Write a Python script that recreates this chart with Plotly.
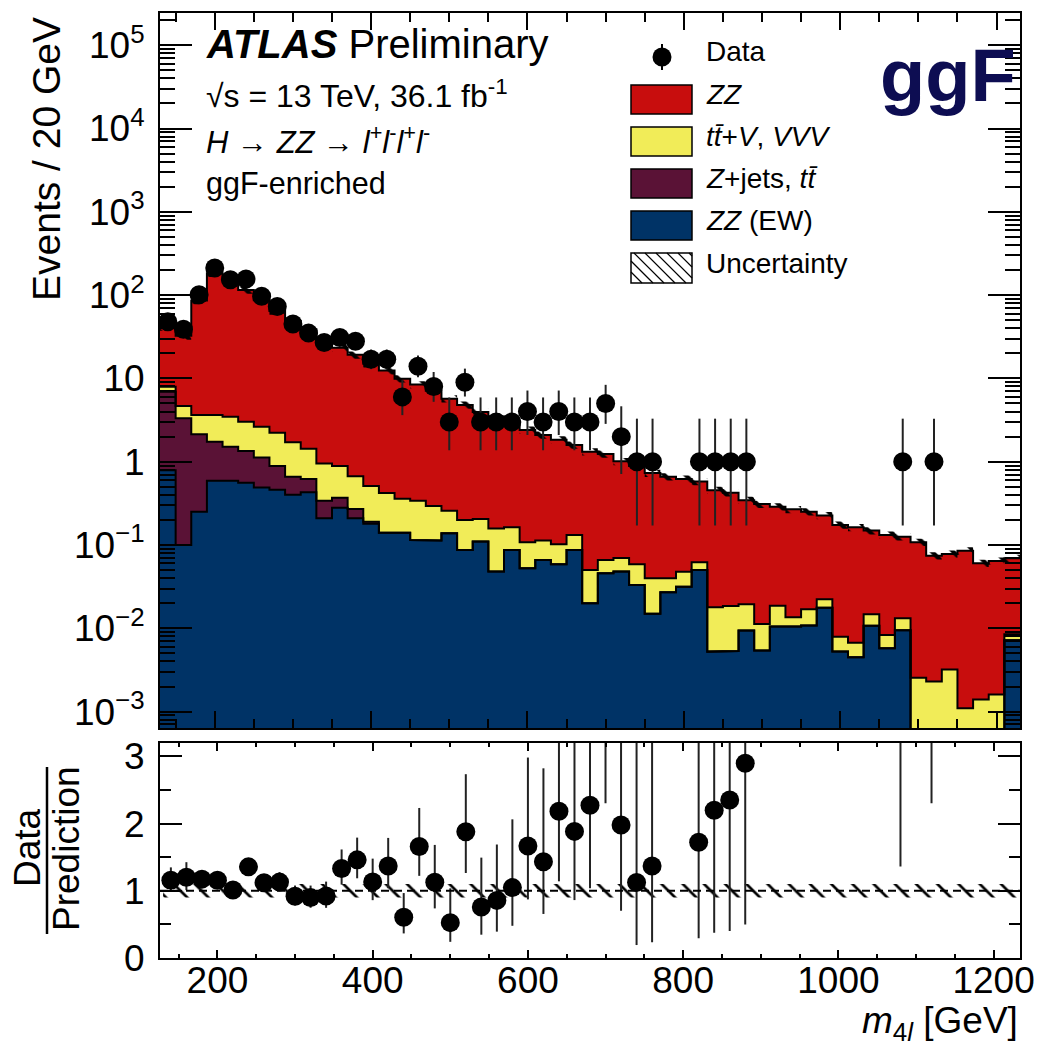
import numpy as np
import plotly.graph_objects as go

# ---------------------------------------------------------------- binning
bin_lo = 130.0          # GeV
bin_width = 20.0        # GeV
n_bins = 55
edges = bin_lo + bin_width * np.arange(n_bins + 1)
centers = edges[:-1] + 0.5 * bin_width

# ---------------------------------------------------------------- data (events per bin)
data_counts = [48, 39, 101, 212, 153, 156, 97, 73, 45, 35,
               27, 31, 28, 17, 17, 6, 14, 8, 3, 9,
               3, 3, 3, 4, 3, 4, 3, 3, 5, 2,
               1, 1, 0, 0, 1, 1, 1, 1, 0, 0,
               0, 0, 0, 0, 0, 0, 0, 1, 0, 1,
               0, 0, 0, 0, 0]

# ---------------------------------------------------------------- predictions (events per bin)
zz_ew = [0.79, 0.10, 0.25, 0.59, 0.59, 0.56, 0.49, 0.46, 0.40, 0.43,
         0.21, 0.28, 0.21, 0.18, 0.14, 0.14, 0.115, 0.113, 0.138, 0.087,
         0.11, 0.048, 0.087, 0.0525, 0.066, 0.0586, 0.087, 0.020, 0.0457, 0.048,
         0.033, 0.0149, 0.027, 0.0316, 0.050, 0.00525, 0.00535, 0.0094, 0.0054, 0.0105,
         0.0105, 0.0108, 0.0176, 0.00525, 0.0045, 0.0107, 0.00575, 0.0095, 0.0, 0.0,
         0.0, 0.0, 0.0, 0.0, 0.0072]

zjets_tt = [6.13, 3.22, 1.88, 1.15, 0.92, 0.78, 0.63, 0.43, 0.26, 0.19,
            0.13, 0.09, 0.06, 0.01, 0.0, 0.0, 0.0, 0.0, 0.0, 0.0,
            0.0, 0.0, 0.0, 0.0, 0.0, 0.0, 0.0, 0.0, 0.0, 0.0,
            0.0, 0.0, 0.0, 0.0, 0.0, 0.0, 0.0, 0.0, 0.0, 0.0,
            0.0, 0.0, 0.0, 0.0, 0.0, 0.0, 0.0, 0.0, 0.0, 0.0,
            0.0, 0.0, 0.0, 0.0, 0.0]

ttv_vvv = [1.03, 1.34, 1.51, 1.90, 1.96, 1.68, 1.51, 1.34, 1.05, 0.81,
           0.61, 0.52, 0.40, 0.32, 0.28, 0.22, 0.225, 0.18, 0.12, 0.113,
           0.095, 0.11, 0.076, 0.0555, 0.047, 0.0434, 0.045, 0.030, 0.0203, 0.022,
           0.0256, 0.0251, 0.013, 0.0162, 0.012, 0.0127, 0.0132, 0.0100, 0.0059, 0.0082,
           0.0031, 0.0061, 0.0047, 0.00265, 0.0022, 0.0040, 0.00255, 0.0037, 0.00255, 0.0023,
           0.0032, 0.0011, 0.0014, 0.0016, 0.0013]

zz_qcd = [33.55, 27.8, 82.4, 179.4, 147.5, 112.0, 84.0, 62.4, 47.2, 37.5,
          28.3, 22.4, 18.5, 14.5, 12.0, 9.55, 8.09, 6.8, 5.44, 4.59,
          3.75, 3.34, 2.70, 2.29, 1.98, 1.73, 1.46, 1.27, 1.17, 0.94,
          0.83, 0.69, 0.62, 0.572, 0.518, 0.437, 0.4065, 0.3256, 0.2987, 0.2693,
          0.2544, 0.2341, 0.2037, 0.1661, 0.1563, 0.1343, 0.1237, 0.1128, 0.1055, 0.0721,
          0.0748, 0.0844, 0.0589, 0.0626, 0.0607]

# total relative uncertainty on the prediction
total_rel_unc = 0.10

# ---------------------------------------------------------------- styling
C_ZZ = "#C80D0D"
C_TTV = "#F1EC58"
C_ZJETS = "#5A1236"
C_EW = "#003366"
C_GGF = "#0D0D52"
FONT = "Liberation Sans, Arial, Helvetica, sans-serif"

W, H = 1038, 1048
M_L, M_R, M_T, M_B = 160, 18, 13, 90
PLOT_W = W - M_L - M_R
PLOT_H = H - M_T - M_B
MAIN_BOTTOM_PX = 728
RATIO_TOP_PX = 743

FLOOR = 1e-6   # stand-in for empty bins on the log axis (below visible range)


def px_x(px):
    return (px - M_L) / PLOT_W


def px_y(py):
    return (H - M_B - py) / PLOT_H


# ---------------------------------------------------------------- derived quantities
n_data = np.array(data_counts, dtype=float)
ew = np.array(zz_ew)
zj = np.array(zjets_tt)
tv = np.array(ttv_vvv)
zz = np.array(zz_qcd)

cum_ew = ew
cum_zj = cum_ew + zj
cum_tv = cum_zj + tv
cum_tot = cum_tv + zz


def garwood(n):
    """68% Poisson interval (Wilson-Hilferty approximation)."""
    n = np.asarray(n, dtype=float)
    m = np.maximum(n, 1)
    lo = np.where(n > 0, n * (1 - 1 / (9 * m) - 1 / (3 * np.sqrt(m))) ** 3, 0.0)
    hi = (n + 1) * (1 - 1 / (9 * (n + 1)) + 1 / (3 * np.sqrt(n + 1))) ** 3
    return lo, hi


d_lo, d_hi = garwood(n_data)
has_data = n_data > 0
err_minus = np.where(has_data, n_data - d_lo, 0.0)
err_plus = np.where(has_data, d_hi - n_data, 0.0)

ratio = n_data / cum_tot
ratio_minus = err_minus / cum_tot
ratio_plus = err_plus / cum_tot


def step_xy(vals):
    v = np.where(np.asarray(vals) > 0, vals, FLOOR)
    xs = np.repeat(edges, 2)[1:-1]
    ys = np.repeat(v, 2)
    return xs, ys


def filled_step(vals, color, xa="x", ya="y"):
    xs, ys = step_xy(vals)
    x = np.concatenate([xs, [edges[-1], edges[0]]])
    y = np.concatenate([ys, [FLOOR, FLOOR]])
    return go.Scatter(x=x, y=y, mode="lines", fill="toself", fillcolor=color,
                      line=dict(width=0, color=color), hoverinfo="skip",
                      showlegend=False, xaxis=xa, yaxis=ya)


def outline_step(vals, xa="x", ya="y"):
    xs, ys = step_xy(vals)
    return go.Scatter(x=xs, y=ys, mode="lines", line=dict(color="black", width=2),
                      hoverinfo="skip", showlegend=False, xaxis=xa, yaxis=ya)


def hatched_band(lo, hi, xa, ya, solidity):
    xs, ylo = step_xy(lo)
    _, yhi = step_xy(hi)
    x = np.concatenate([xs, xs[::-1]])
    y = np.concatenate([yhi, ylo[::-1]])
    return go.Scatter(x=x, y=y, mode="lines", fill="toself",
                      fillcolor="rgba(0,0,0,0)",
                      fillpattern=dict(shape="\\", fgcolor="black",
                                       bgcolor="rgba(0,0,0,0)", size=15,
                                       solidity=solidity),
                      line=dict(width=0), hoverinfo="skip", showlegend=False,
                      xaxis=xa, yaxis=ya)


fig = go.Figure()

# ---- main panel: stacked predictions (top of stack painted first)
fig.add_trace(filled_step(cum_tot, C_ZZ))
fig.add_trace(filled_step(cum_tv, C_TTV))
fig.add_trace(filled_step(cum_zj, C_ZJETS))
fig.add_trace(filled_step(cum_ew, C_EW))
for level in (cum_ew, cum_zj, cum_tv, cum_tot):
    fig.add_trace(outline_step(level))
fig.add_trace(hatched_band(cum_tot * (1 - total_rel_unc),
                           cum_tot * (1 + total_rel_unc), "x", "y", 0.28))

# ---- main panel: data
fig.add_trace(go.Scatter(
    x=centers[has_data], y=n_data[has_data], mode="markers",
    marker=dict(color="black", size=19, line=dict(width=0)),
    error_y=dict(type="data", symmetric=False, array=err_plus[has_data],
                 arrayminus=err_minus[has_data], color="#222222",
                 thickness=2, width=0),
    showlegend=False, hoverinfo="skip", xaxis="x", yaxis="y"))

# ---- ratio panel
fig.add_trace(hatched_band(np.full(n_bins, 1 - total_rel_unc),
                           np.full(n_bins, 1 + total_rel_unc), "x2", "y2", 0.18))
fig.add_shape(type="line", xref="x2 domain", yref="y2", x0=0, x1=1, y0=1, y1=1,
              line=dict(color="black", width=2, dash="8px,5px"))
fig.add_trace(go.Scatter(
    x=centers[has_data], y=ratio[has_data], mode="markers",
    marker=dict(color="black", size=19, line=dict(width=0)),
    error_y=dict(type="data", symmetric=False, array=ratio_plus[has_data],
                 arrayminus=ratio_minus[has_data], color="#222222",
                 thickness=2, width=0),
    showlegend=False, hoverinfo="skip", xaxis="x2", yaxis="y2"))

# ---------------------------------------------------------------- axes
dec_vals = [1e-3, 1e-2, 1e-1, 1, 10, 1e2, 1e3, 1e4, 1e5]
dec_text = ["10<sup>\u22123</sup>", "10<sup>\u22122</sup>", "10<sup>\u22121</sup>",
            "1", "10", "10<sup>2</sup>", "10<sup>3</sup>", "10<sup>4</sup>",
            "10<sup>5</sup>"]
log_minor = [k * 10.0 ** d for d in range(-4, 6) for k in range(2, 10)]

tick_font = dict(family=FONT, size=37, color="black")
frame = dict(showline=True, linecolor="black", linewidth=2, mirror="allticks",
             showgrid=False, zeroline=False, tickcolor="black", tickwidth=2,
             automargin=False)

main_dom = [px_y(MAIN_BOTTOM_PX), 1.0]
ratio_dom = [0.0, px_y(RATIO_TOP_PX)]

fig.update_layout(
    template="none",
    width=W, height=H,
    margin=dict(l=M_L, r=M_R, t=M_T, b=M_B, autoexpand=False),
    paper_bgcolor="white", plot_bgcolor="white",
    showlegend=False,
    font=dict(family=FONT, color="black"),
    xaxis=dict(domain=[0, 1], anchor="y", range=[edges[0], edges[-1]],
               ticks="inside", ticklen=17, dtick=200, tick0=0,
               showticklabels=False,
               minor=dict(ticks="inside", ticklen=9, dtick=50, tick0=0,
                          tickcolor="black", tickwidth=2),
               **frame),
    yaxis=dict(domain=main_dom, anchor="x", type="log", range=[-3.197, 5.387],
               tickmode="array", tickvals=dec_vals, ticktext=dec_text,
               ticks="inside", ticklen=32, tickfont=tick_font,
               ticklabelstandoff=6,
               minor=dict(ticks="inside", ticklen=15, tickmode="array",
                          tickvals=log_minor, tickcolor="black", tickwidth=2),
               **frame),
    xaxis2=dict(domain=[0, 1], anchor="y2", range=[126, 1234],
                ticks="inside", ticklen=8, dtick=200, tick0=0,
                tickfont=tick_font, ticklabelstandoff=-11,
                minor=dict(ticks="inside", ticklen=4, dtick=50, tick0=0,
                           tickcolor="black", tickwidth=2),
                **frame),
    yaxis2=dict(domain=ratio_dom, anchor="x2", range=[0, 3.2],
                tickmode="array", tickvals=[0, 1, 2, 3],
                ticks="inside", ticklen=22, tickfont=tick_font,
                ticklabelstandoff=6,
                minor=dict(ticks="inside", ticklen=11, dtick=0.5, tick0=0,
                           tickcolor="black", tickwidth=2),
                **frame),
)

# ---------------------------------------------------------------- text
def add_text(text, x_px, y_px, size, xanchor="left", yanchor="middle",
             angle=0, color="black", family=FONT):
    fig.add_annotation(text=text, xref="paper", yref="paper",
                       x=px_x(x_px), y=px_y(y_px), xanchor=xanchor,
                       yanchor=yanchor, textangle=angle, showarrow=False,
                       font=dict(family=family, size=size, color=color))


add_text("Events / 20 GeV", 47, 159, 39, xanchor="center", angle=-90)
add_text("Data", 27, 848, 37, xanchor="center", angle=-90)
add_text("Prediction", 66, 849, 37, xanchor="center", angle=-90)
fig.add_shape(type="line", xref="paper", yref="paper",
              x0=px_x(47), x1=px_x(47), y0=px_y(767), y1=px_y(934),
              line=dict(color="black", width=2.5))
add_text("<i>m</i><sub>4<i>l</i></sub> [GeV]", 1020, 1048, 37,
         xanchor="right", yanchor="bottom")

add_text("<b><i>ATLAS</i></b> Preliminary", 204, 44, 40)
add_text("\u221as = 13 TeV, 36.1 fb<sup>-1</sup>", 204, 94, 32)
add_text("<i>H</i> \u2192 <i>ZZ</i> \u2192 <i>l</i><sup>+</sup><i>l</i><sup>-</sup>"
         "<i>l</i><sup>+</sup><i>l</i><sup>-</sup>", 204, 140, 31)
add_text("ggF-enriched", 204, 183, 30.5)

add_text("<b>ggF</b>", 1018, 76, 74, xanchor="right", color=C_GGF)

# ---------------------------------------------------------------- legend
LEG_X0, LEG_X1 = 631, 692
TEXT_X = 704
entries = [
    ("<i>ZZ</i>", C_ZZ, 85, 114, 94),
    ("<i>t</i><i>t\u0304</i>+<i>V</i>, <i>VVV</i>", C_TTV, 127, 156, 136),
    ("<i>Z</i>+jets, <i>t</i><i>t\u0304</i>", C_ZJETS, 169, 198, 178),
    ("<i>ZZ</i> (EW)", C_EW, 211, 240, 220),
]
for label, color, y0, y1, ytxt in entries:
    fig.add_shape(type="rect", xref="paper", yref="paper",
                  x0=px_x(LEG_X0), x1=px_x(LEG_X1), y0=px_y(y1), y1=px_y(y0),
                  fillcolor=color, line=dict(color="black", width=1.5))
    add_text(label, TEXT_X, ytxt, 28)

# uncertainty swatch: outlined box with backslash hatching
UY0, UY1 = 253, 283
fig.add_shape(type="rect", xref="paper", yref="paper",
              x0=px_x(LEG_X0), x1=px_x(LEG_X1), y0=px_y(UY1), y1=px_y(UY0),
              fillcolor="white", line=dict(color="black", width=1.5))
hatch_step = 11
box_h = UY1 - UY0
start = LEG_X0 - box_h
while start < LEG_X1:
    xa, ya = start, UY0
    xb, yb = start + box_h, UY1
    if xa < LEG_X0:
        ya += LEG_X0 - xa
        xa = LEG_X0
    if xb > LEG_X1:
        yb -= xb - LEG_X1
        xb = LEG_X1
    if xb > xa:
        fig.add_shape(type="line", xref="paper", yref="paper",
                      x0=px_x(xa), y0=px_y(ya), x1=px_x(xb), y1=px_y(yb),
                      line=dict(color="black", width=1.2))
    start += hatch_step
add_text("Uncertainty", TEXT_X, 263, 28)

# data legend marker
fig.add_shape(type="line", xref="paper", yref="paper",
              x0=px_x(662), x1=px_x(662), y0=px_y(70), y1=px_y(44),
              line=dict(color="black", width=2))
fig.add_shape(type="circle", xref="paper", yref="paper",
              x0=px_x(652.5), x1=px_x(671.5), y0=px_y(66.5), y1=px_y(47.5),
              fillcolor="black", line=dict(color="black", width=0))
add_text("Data", TEXT_X, 52, 28)

fig.write_html("out.html")
